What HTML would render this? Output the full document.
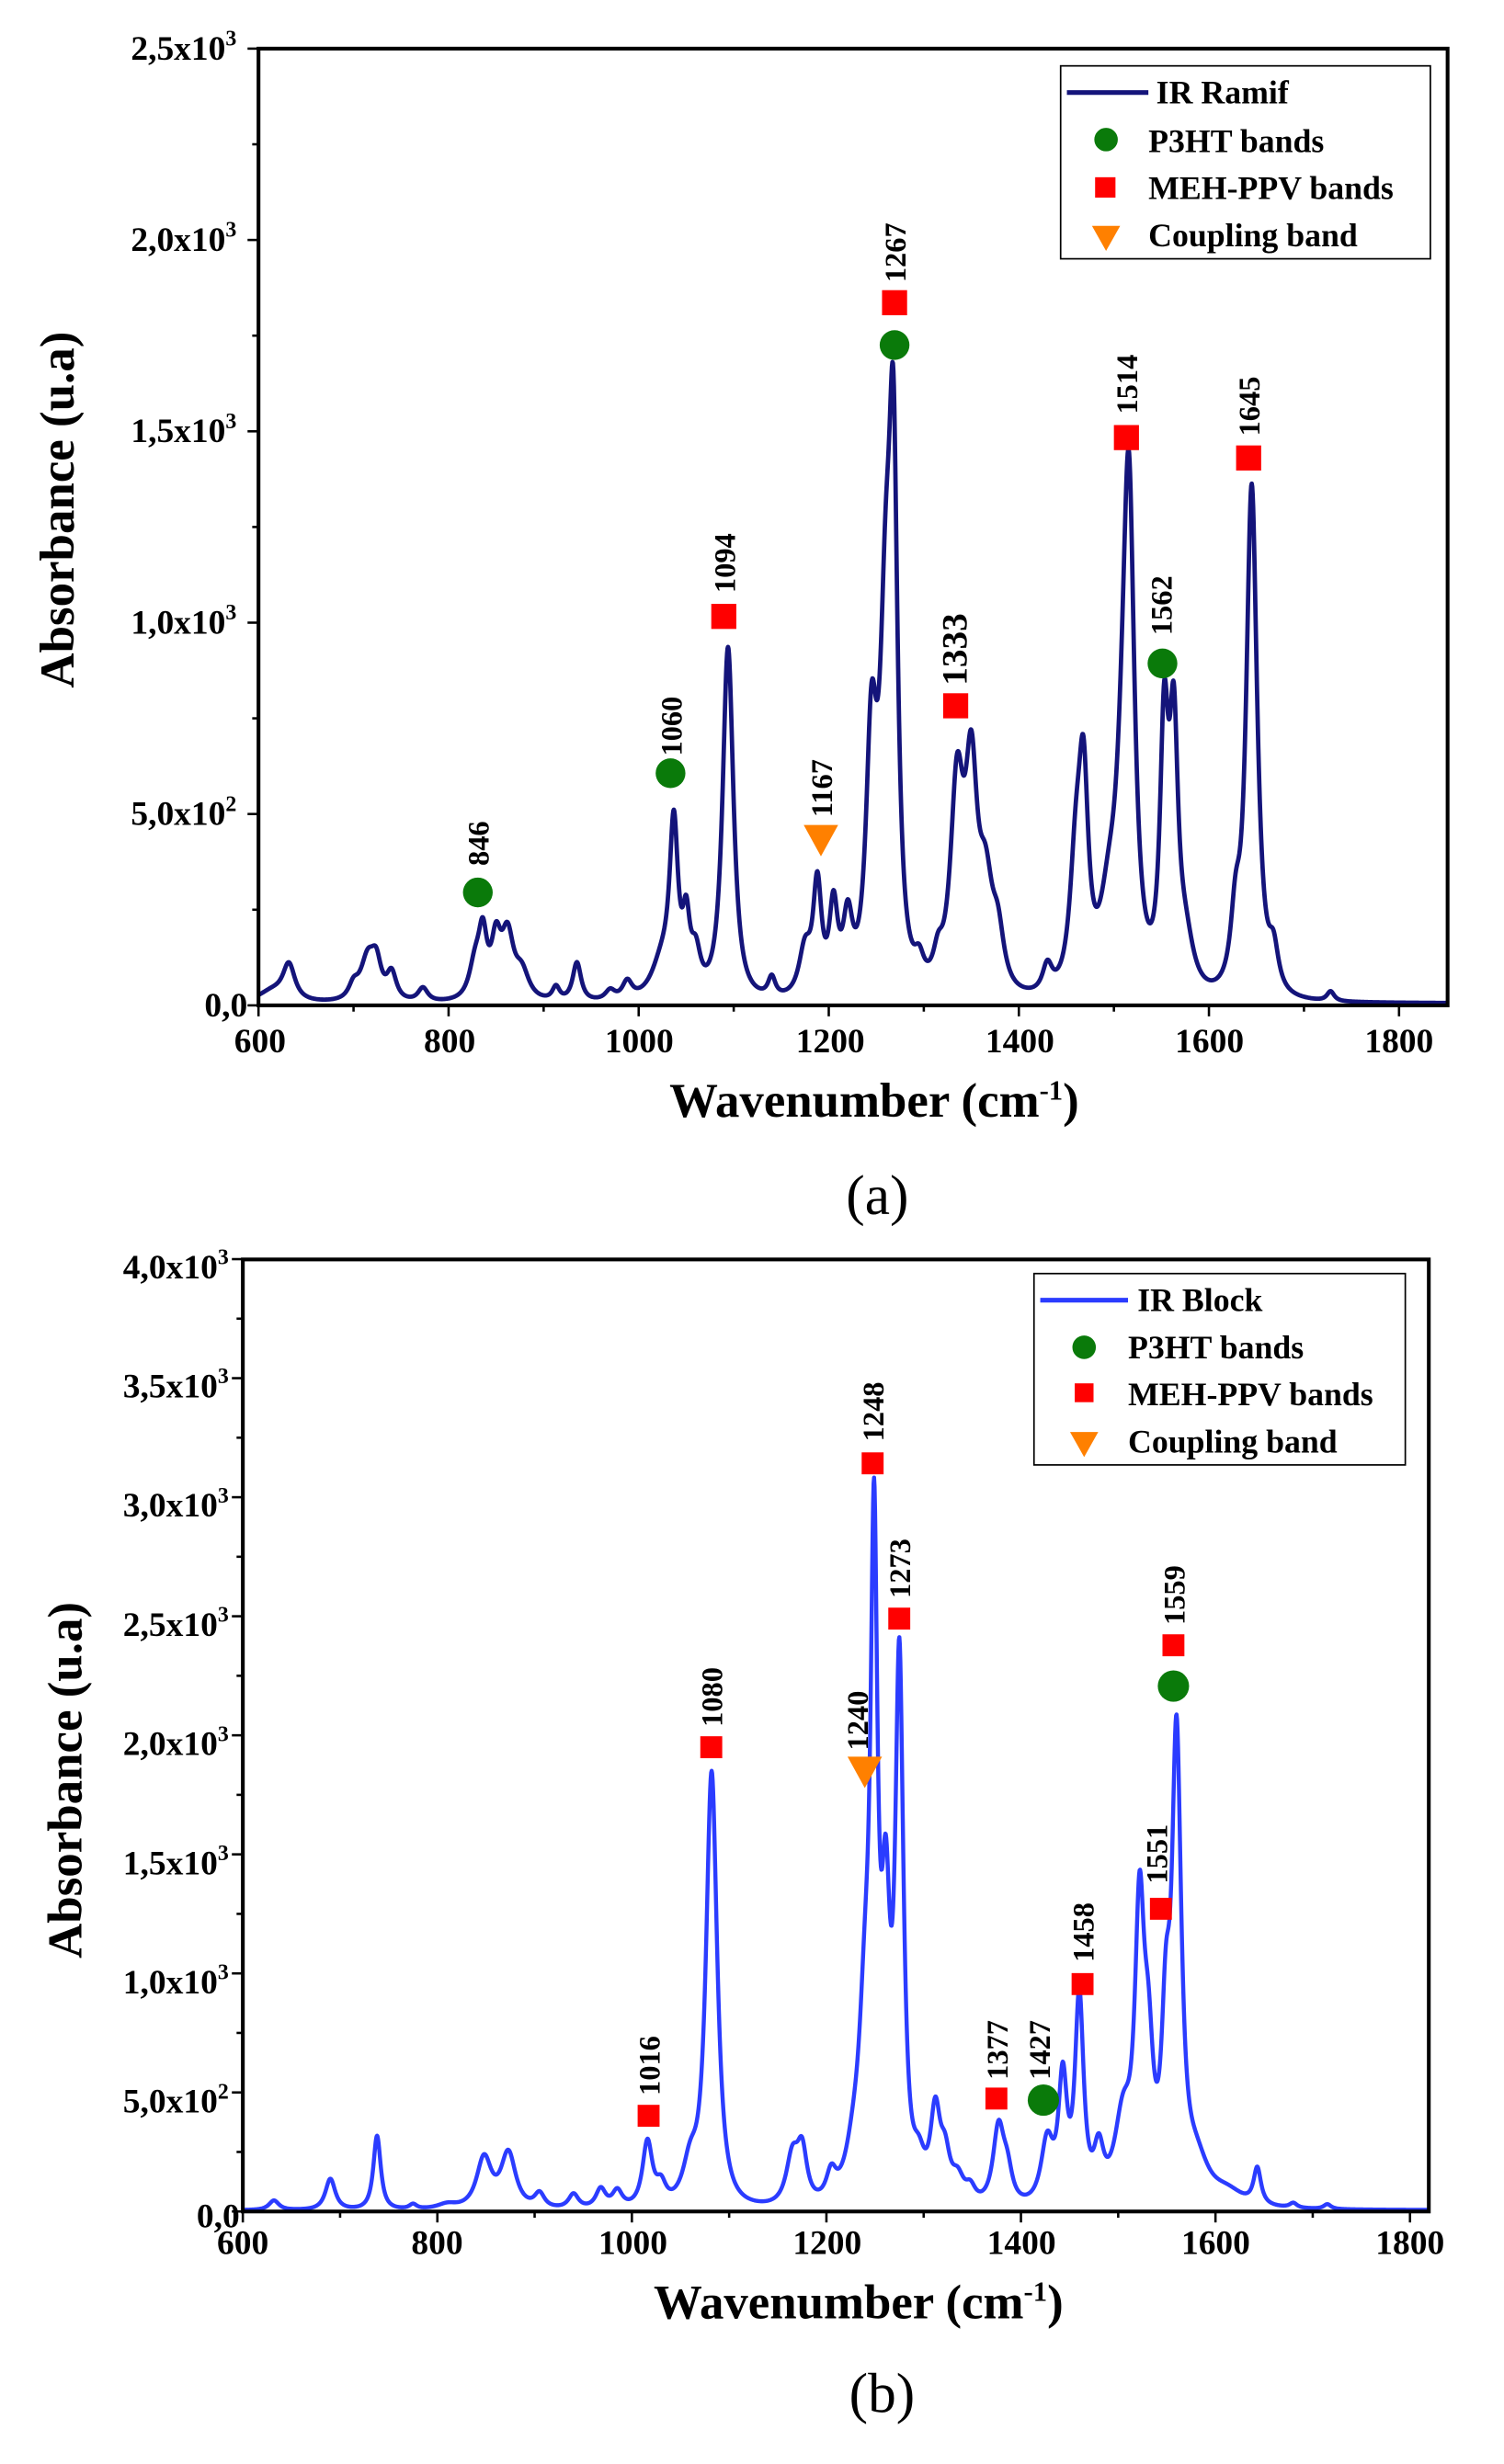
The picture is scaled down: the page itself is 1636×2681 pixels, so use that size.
<!DOCTYPE html>
<html><head><meta charset="utf-8">
<style>
html,body{margin:0;padding:0;background:#fff;}
svg{display:block;}
text{font-family:"Liberation Serif",serif;font-weight:bold;fill:#000;}
</style></head>
<body>
<svg id="s" width="1636" height="2681" viewBox="0 0 960 1571" preserveAspectRatio="none" xmlns="http://www.w3.org/2000/svg">
<rect x="0" y="0" width="960" height="1571" fill="#fff"/>
<g id="A">
<path id="specA" d="" fill="none" stroke="#14147a" stroke-width="2.8" stroke-linejoin="round"/>
<rect x="165" y="31" width="759" height="610" fill="none" stroke="#000" stroke-width="2.4"/>
<g id="ticksA" stroke="#000" stroke-width="1.5"></g>
<g font-size="22" text-anchor="end">
<text x="158" y="648">0,0</text>
<text x="151" y="526">5,0x10<tspan font-size="14" dy="-9">2</tspan></text>
<text x="151" y="404">1,0x10<tspan font-size="14" dy="-9">3</tspan></text>
<text x="151" y="282">1,5x10<tspan font-size="14" dy="-9">3</tspan></text>
<text x="151" y="160">2,0x10<tspan font-size="14" dy="-9">3</tspan></text>
<text x="151" y="38">2,5x10<tspan font-size="14" dy="-9">3</tspan></text>
</g>
<g font-size="22" text-anchor="middle">
<text x="166" y="671">600</text><text x="287" y="671">800</text><text x="408" y="671">1000</text>
<text x="530" y="671">1200</text><text x="651" y="671">1400</text><text x="772" y="671">1600</text><text x="893" y="671">1800</text>
</g>
<text x="558" y="712" font-size="31" text-anchor="middle">Wavenumber (cm<tspan font-size="18" dy="-11">-1</tspan><tspan dy="11">)</tspan></text>
<text transform="translate(47,325) rotate(-90)" font-size="31" text-anchor="middle">Absorbance (u.a)</text>
<text x="560" y="774" font-size="36" style="font-weight:normal" text-anchor="middle">(a)</text>
<rect x="677" y="42" width="236" height="123" fill="#fff" stroke="#000" stroke-width="1"/>
<line x1="681" y1="59" x2="733" y2="59" stroke="#14147a" stroke-width="3"/>
<g font-size="21"><text x="738" y="66">IR Ramif</text><text x="733" y="97">P3HT bands</text><text x="733" y="127">MEH-PPV bands</text><text x="733" y="157">Coupling band</text></g>
<circle cx="706" cy="89" r="7.5" fill="#0a7a0a"/>
<rect x="699" y="113" width="13" height="13" fill="#f00"/>
<path d="M697,144 L715,144 L706,160 Z" fill="#ff8000"/>
<circle cx="305" cy="569" r="9.5" fill="#0a7a0a"/>
<circle cx="428" cy="493" r="9.5" fill="#0a7a0a"/>
<rect x="454" y="385" width="16" height="16" fill="#f00"/>
<path d="M513,526 L535,526 L524,546 Z" fill="#ff8000"/>
<rect x="563" y="185" width="16" height="16" fill="#f00"/>
<circle cx="571" cy="220" r="9.5" fill="#0a7a0a"/>
<rect x="602" y="442" width="16" height="16" fill="#f00"/>
<rect x="711" y="271" width="16" height="16" fill="#f00"/>
<circle cx="742" cy="423" r="9.5" fill="#0a7a0a"/>
<rect x="789" y="284" width="16" height="16" fill="#f00"/>
<g font-size="19">
<text transform="translate(312,552) rotate(-90)">846</text>
<text transform="translate(435,482) rotate(-90)">1060</text>
<text transform="translate(469,378) rotate(-90)">1094</text>
<text transform="translate(531,521) rotate(-90)">1167</text>
<text transform="translate(578,180) rotate(-90)">1267</text>
<text transform="translate(617,437) rotate(-90)" font-size="23">1333</text>
<text transform="translate(726,264) rotate(-90)">1514</text>
<text transform="translate(748,405) rotate(-90)">1562</text>
<text transform="translate(804,278) rotate(-90)">1645</text>
</g>
</g>
<g id="B">
<path id="specB" d="" fill="none" stroke="#2b3cff" stroke-width="2.6" stroke-linejoin="round"/>
<rect x="155" y="803" width="757" height="607" fill="none" stroke="#000" stroke-width="2.4"/>
<g id="ticksB" stroke="#000" stroke-width="1.5"></g>
<g font-size="22" text-anchor="end">
<text x="153" y="1420">0,0</text>
<text x="146" y="1347">5,0x10<tspan font-size="14" dy="-9">2</tspan></text>
<text x="146" y="1271">1,0x10<tspan font-size="14" dy="-9">3</tspan></text>
<text x="146" y="1195">1,5x10<tspan font-size="14" dy="-9">3</tspan></text>
<text x="146" y="1119">2,0x10<tspan font-size="14" dy="-9">3</tspan></text>
<text x="146" y="1043">2,5x10<tspan font-size="14" dy="-9">3</tspan></text>
<text x="146" y="967">3,0x10<tspan font-size="14" dy="-9">3</tspan></text>
<text x="146" y="891">3,5x10<tspan font-size="14" dy="-9">3</tspan></text>
<text x="146" y="815">4,0x10<tspan font-size="14" dy="-9">3</tspan></text>
</g>
<g font-size="22" text-anchor="middle">
<text x="155" y="1437">600</text><text x="279" y="1437">800</text><text x="404" y="1437">1000</text>
<text x="528" y="1437">1200</text><text x="652" y="1437">1400</text><text x="776" y="1437">1600</text><text x="900" y="1437">1800</text>
</g>
<text x="548" y="1478" font-size="31" text-anchor="middle">Wavenumber (cm<tspan font-size="18" dy="-11">-1</tspan><tspan dy="11">)</tspan></text>
<text transform="translate(52,1135) rotate(-90)" font-size="31" text-anchor="middle">Absorbance (u.a)</text>
<text x="563" y="1538" font-size="36" style="font-weight:normal" text-anchor="middle">(b)</text>
<rect x="660" y="812" width="237" height="122" fill="#fff" stroke="#000" stroke-width="1"/>
<line x1="664" y1="829" x2="720" y2="829" stroke="#2b3cff" stroke-width="3"/>
<g font-size="21"><text x="726" y="836">IR Block</text><text x="720" y="866">P3HT bands</text><text x="720" y="896">MEH-PPV bands</text><text x="720" y="926">Coupling band</text></g>
<circle cx="692" cy="859" r="7.5" fill="#0a7a0a"/>
<rect x="686" y="882" width="12" height="12" fill="#f00"/>
<path d="M683,913 L701,913 L692,929 Z" fill="#ff8000"/>
<rect x="407" y="1342" width="14" height="14" fill="#f00"/>
<rect x="447" y="1107" width="14" height="14" fill="#f00"/>
<path d="M541,1120 L563,1120 L552,1140 Z" fill="#ff8000"/>
<rect x="550" y="926" width="14" height="14" fill="#f00"/>
<rect x="567" y="1025" width="14" height="14" fill="#f00"/>
<rect x="629" y="1331" width="14" height="14" fill="#f00"/>
<circle cx="666" cy="1339" r="10" fill="#0a7a0a"/>
<rect x="684" y="1258" width="14" height="14" fill="#f00"/>
<rect x="734" y="1210" width="14" height="14" fill="#f00"/>
<rect x="742" y="1042" width="14" height="14" fill="#f00"/>
<circle cx="749" cy="1075" r="10" fill="#0a7a0a"/>
<g font-size="19">
<text transform="translate(421,1336) rotate(-90)">1016</text>
<text transform="translate(461,1101) rotate(-90)">1080</text>
<text transform="translate(554,1116) rotate(-90)">1240</text>
<text transform="translate(564,919) rotate(-90)">1248</text>
<text transform="translate(581,1019) rotate(-90)">1273</text>
<text transform="translate(643,1326) rotate(-90)">1377</text>
<text transform="translate(670,1326) rotate(-90)">1427</text>
<text transform="translate(698,1251) rotate(-90)">1458</text>
<text transform="translate(745,1201) rotate(-90)">1551</text>
<text transform="translate(756,1036) rotate(-90)">1559</text>
</g>
</g>
</svg>
<script>
(function(){
var NS="http://www.w3.org/2000/svg";
var WM=1.7;
function prof(x,P){var s=0;for(var i=0;i<P.length;i++){var d=(x-P[i][0])/(P[i][2]*WM);s+=P[i][1]/Math.pow(1+d*d,1.2);}return s;}
var PA=[[615,30,12],[632,90,5],[700,35,4],[715,110,6],[724,80,4],[740,70,4],[773,35,4],[828,90,5],[836,150,3.5],[850,140,4],[862,160,5],[877,70,6],[913,35,3],[935,100,3.5],[970,25,4],[988,45,4],[1025,100,9],[1037,420,3.5],[1050,170,3],[1060,100,4],[1094,920,4.5],[1140,50,3],[1175,120,5],[1188,280,3.5],[1205,220,3.5],[1220,180,4],[1245,620,4.5],[1260,850,5],[1268,1200,3.5],[1295,60,4],[1315,70,4],[1335,520,5.5],[1350,520,5],[1365,250,6],[1378,130,5],[1430,70,4],[1460,310,5],[1468,490,4],[1495,200,8],[1510,380,6],[1516,1100,4.5],[1553,650,3.5],[1563,620,3.5],[1575,130,7],[1628,170,4],[1645,1330,4.5],[1668,100,4],[1728,25,3]];
var PB=[[632,40,4],[690,130,4],[738,310,3],[775,20,3],[810,20,8],[848,210,6],[873,230,6],[905,60,4],[940,60,4],[968,80,4],[985,70,4],[1016,270,4],[1030,80,4],[1060,160,6],[1082,1820,4.5],[1165,200,5],[1175,210,4],[1205,110,4],[1228,170,7],[1240,700,5],[1249,2550,2.8],[1261,1050,3.5],[1275,2200,3.3],[1295,140,5],[1312,360,4],[1322,170,4],[1335,100,5],[1348,60,4],[1377,320,4.5],[1386,120,4],[1427,260,5],[1443,500,3.5],[1460,850,3.5],[1480,200,4],[1505,340,7],[1522,1130,3.8],[1531,500,4],[1549,620,3.5],[1560,1870,3.8],[1580,170,10],[1612,60,14],[1643,150,3],[1680,20,3],[1715,20,3]];
function build(P,px0,pxPer,py0,pyPer,xmax){var parts=[];for(var w=600;w<=xmax;w+=0.5){var v=prof(w,P)+5;var X=px0+(w-600)*pxPer;var Y=py0-v*pyPer;parts.push((parts.length?'L':'M')+X.toFixed(2)+','+Y.toFixed(2));}return parts.join('');}
document.getElementById('specA').setAttribute('d',build(PA,165,728/1200,641,610/2500,1851));
document.getElementById('specB').setAttribute('d',build(PB,155,745/1200,1410,607/4000,1818));
function ln(g,x1,y1,x2,y2){var l=document.createElementNS(NS,'line');l.setAttribute('x1',x1);l.setAttribute('y1',y1);l.setAttribute('x2',x2);l.setAttribute('y2',y2);g.appendChild(l);}
function ticks(id,x0,y0,xper,xmaxv,yStepPx,nY){var g=document.getElementById(id);for(var v=600;v<=xmaxv;v+=100){var X=x0+(v-600)*xper;var L=(v%200==0)?7:4;ln(g,X,y0,X,y0+L);}
for(var i=0;i<=nY*2;i++){var Y=y0-i*yStepPx/2;var L=(i%2==0)?7:4;ln(g,x0-L,Y,x0,Y);}}
ticks('ticksA',165,641,728/1200,1850,122,5);
ticks('ticksB',155,1410,745/1200,1810,75.9,8);
})();
</script>
</body></html>
